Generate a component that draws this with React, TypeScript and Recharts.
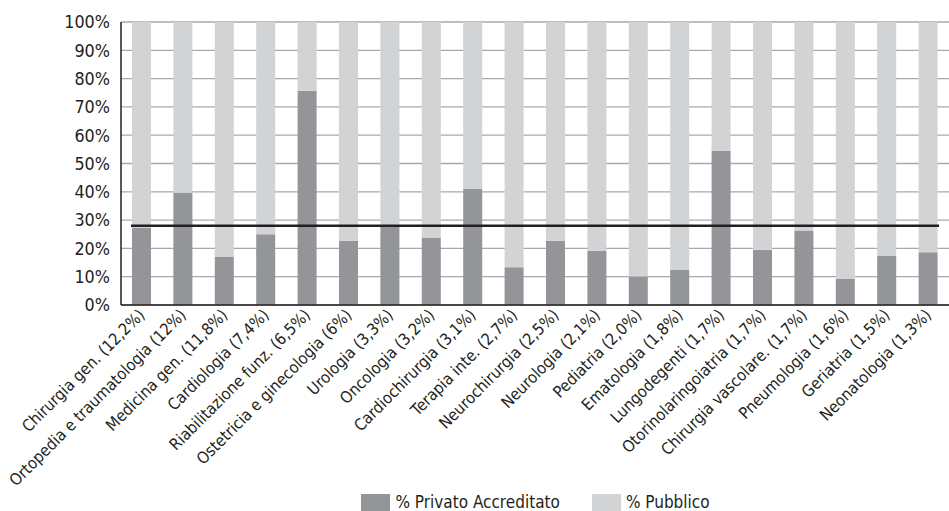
import React from "react";
import { BarChart, Bar, XAxis, YAxis, CartesianGrid, ReferenceLine, Legend } from "recharts";

const categories = [
  "Chirurgia gen. (12,2%)",
  "Ortopedia e traumatologia (12%)",
  "Medicina gen. (11,8%)",
  "Cardiologia (7,4%)",
  "Riabilitazione funz. (6,5%)",
  "Ostetricia e ginecologia (6%)",
  "Urologia (3,3%)",
  "Oncologia (3,2%)",
  "Cardiochirurgia (3,1%)",
  "Terapia inte. (2,7%)",
  "Neurochirurgia (2,5%)",
  "Neurologia (2,1%)",
  "Pediatria (2,0%)",
  "Ematologia (1,8%)",
  "Lungodegenti (1,7%)",
  "Otorinolaringoiatria (1,7%)",
  "Chirurgia vascolare. (1,7%)",
  "Pneumologia (1,6%)",
  "Geriatria (1,5%)",
  "Neonatologia (1,3%)",
];

const privato = [27.3, 39.7, 17.0, 25.0, 75.7, 22.7, 27.7, 23.7, 41.0, 13.3, 22.7, 19.2, 10.1, 12.4, 54.4, 19.5, 26.3, 9.2, 17.3, 18.6];
const pubblico = [72.7, 60.3, 83.0, 75.0, 24.3, 77.3, 72.3, 76.3, 59.0, 86.7, 77.3, 80.8, 89.9, 87.6, 45.6, 80.5, 73.7, 90.8, 82.7, 81.4];
const yTicks = [0, 10, 20, 30, 40, 50, 60, 70, 80, 90, 100];
const mediaPrivato = 28;

const seriesNames = { privato: "% Privato Accreditato", pubblico: "% Pubblico" };

const data = categories.map((c, i) => ({ name: c, privato: privato[i], pubblico: pubblico[i] }));

const FONT = '"Liberation Sans Narrow", "Arial Narrow", "DejaVu Sans Condensed", sans-serif';
const TEXT = "#231f20";
const DARK = "#939598";
const LIGHT = "#d1d3d4";

const XTick = (props: any) => {
  const { x, y, payload } = props;
  return (
    <g transform={`translate(${x + 4},${y + 9})`}>
      <text textAnchor="end" transform="rotate(-45)" fill={TEXT} fontSize={16.2} fontFamily={FONT}>
        {payload.value}
      </text>
    </g>
  );
};

const LegendContent = () => (
  <div style={{ height: 24, display: "flex", justifyContent: "center", alignItems: "flex-start", fontFamily: FONT, fontSize: 17, color: TEXT, paddingLeft: 122 }}>
    <div style={{ display: "flex", alignItems: "flex-start", marginRight: 32, paddingTop: 7 }}>
      <div style={{ width: 29, height: 17, background: DARK, marginRight: 5 }} />
      <span style={{ lineHeight: "17px" }}>{seriesNames.privato}</span>
    </div>
    <div style={{ display: "flex", alignItems: "flex-start", paddingTop: 7 }}>
      <div style={{ width: 29, height: 17, background: LIGHT, marginRight: 5 }} />
      <span style={{ lineHeight: "17px" }}>{seriesNames.pubblico}</span>
    </div>
  </div>
);

const ShortLine = (props: any) => {
  const { x1, y1, x2, y2 } = props;
  const inset = 10;
  return <line x1={x1 + inset} y1={y1} x2={x2 - inset} y2={y2} stroke="#231f20" strokeWidth={2.5} />;
};

export default function App() {
  return (
    <div style={{ position: "absolute", left: 0, top: 0, background: "#fff" }}>
      <BarChart
        width={949}
        height={511}
        data={data}
        margin={{ top: 22, right: 0, left: 0, bottom: 0 }}
        barSize={19}
      >
        <CartesianGrid vertical={false} stroke="#a7a9ac" strokeWidth={1.3} />
        <XAxis
          dataKey="name"
          interval={0}
          tick={<XTick />}
          tickLine={false}
          tickSize={0}
          height={182}
          axisLine={{ stroke: "#231f20", strokeWidth: 1.5 }}
        />
        <YAxis
          width={121}
          domain={[0, 100]}
          ticks={yTicks}
          tickFormatter={(v: number) => `${v}%`}
          tickLine={false}
          tickSize={0}
          tickMargin={11}
          axisLine={{ stroke: "#231f20", strokeWidth: 1.5 }}
          tick={{ fill: TEXT, fontSize: 17.8, fontFamily: FONT }}
        />
        <Bar dataKey="privato" stackId="a" fill={DARK} isAnimationActive={false} name={seriesNames.privato} />
        <Bar dataKey="pubblico" stackId="a" fill={LIGHT} isAnimationActive={false} name={seriesNames.pubblico} />
        <ReferenceLine y={mediaPrivato} shape={<ShortLine />} />
        <Legend verticalAlign="bottom" height={24} content={<LegendContent />} />
      </BarChart>
    </div>
  );
}
